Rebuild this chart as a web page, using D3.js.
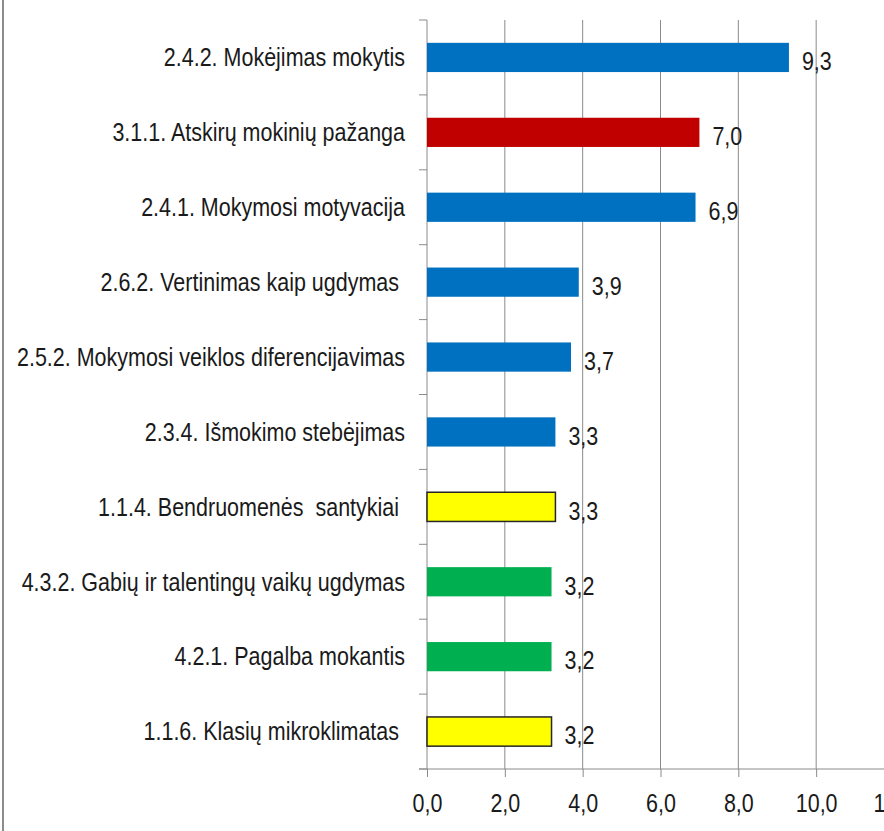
<!DOCTYPE html>
<html>
  <head>
    <meta charset="UTF-8" />
    <title>Rodikliai</title>
    <style>
      body { margin: 0; background: #fff; }
      text { font-family: "Liberation Sans", Arial, sans-serif; fill: #1a1a1a; }
    </style>
  </head>
  <body>
    <svg></svg>
    <script src="https://d3js.org/d3.v7.min.js"></script>
    <script>
      // chart data
      const categories = [
        "2.4.2. Mokėjimas mokytis",
        "3.1.1. Atskirų mokinių pažanga",
        "2.4.1. Mokymosi motyvacija",
        "2.6.2. Vertinimas kaip ugdymas ",
        "2.5.2. Mokymosi veiklos diferencijavimas",
        "2.3.4. Išmokimo stebėjimas",
        "1.1.4. Bendruomenės  santykiai ",
        "4.3.2. Gabių ir talentingų vaikų ugdymas",
        "4.2.1. Pagalba mokantis",
        "1.1.6. Klasių mikroklimatas "
      ];
      const values = [9.3, 7.0, 6.9, 3.9, 3.7, 3.3, 3.3, 3.2, 3.2, 3.2];
      const groups = ["blue", "red", "blue", "blue", "blue", "blue", "yellow", "green", "green", "yellow"];
      const xTicks = [0, 2, 4, 6, 8, 10, 12];

      const colors = { blue: "#0070c0", red: "#c00000", yellow: "#ffff00", green: "#00b050" };

      let width = 884, height = 831;
      let svg = d3.select("svg").attr("width", width).attr("height", height);

      let plotLeft = 427, plotTop = 20, plotBottom = 769;
      let squeeze = 0.86; // text in the original is narrow

      let x = d3.scaleLinear().domain([0, 12]).range([plotLeft, 894]);
      let y = d3.scaleBand().domain(categories).range([plotTop, plotBottom])
        .paddingInner(0.61).paddingOuter(0.305);

      let fmt = (v) => d3.format(".1f")(v).replace(".", ",");

      // outer border on the left
      svg.append("line")
        .attr("x1", 3).attr("x2", 3).attr("y1", 0).attr("y2", height)
        .attr("stroke", "#8c8c8c").attr("stroke-width", 2);

      // gridlines
      svg.append("g")
        .selectAll("line")
        .data(xTicks.filter((d) => d > 0))
        .enter()
        .append("line")
        .attr("x1", (d) => x(d)).attr("x2", (d) => x(d))
        .attr("y1", plotTop).attr("y2", plotBottom)
        .attr("stroke", "#8a8a8a").attr("stroke-width", 1);

      // x axis
      let xAxis = svg.append("g")
        .attr("transform", "translate(0," + plotBottom + ")")
        .call(d3.axisBottom(x).tickValues(xTicks).tickSize(8).tickPadding(17).tickFormat(fmt));
      xAxis.attr("font-family", null).attr("font-size", null);
      xAxis.select(".domain").remove();
      xAxis.selectAll(".tick line").attr("stroke", "#8a8a8a");
      xAxis.selectAll(".tick text")
        .style("font-size", "25px")
        .attr("fill", "#1a1a1a")
        .attr("transform", "scale(" + squeeze + ",1)");
      xAxis.append("line")
        .attr("x1", plotLeft - 8).attr("x2", width).attr("y1", 0).attr("y2", 0)
        .attr("stroke", "#8a8a8a");

      // y axis with ticks between categories
      let step = y.step();
      let yg = svg.append("g");
      yg.append("line")
        .attr("x1", plotLeft).attr("x2", plotLeft).attr("y1", plotTop).attr("y2", plotBottom)
        .attr("stroke", "#8a8a8a");
      yg.selectAll("line.tk")
        .data(d3.range(categories.length + 1))
        .enter()
        .append("line")
        .attr("class", "tk")
        .attr("x1", plotLeft - 8).attr("x2", plotLeft)
        .attr("y1", (i) => plotTop + i * step).attr("y2", (i) => plotTop + i * step)
        .attr("stroke", "#8a8a8a");

      // category labels
      svg.append("g")
        .selectAll("text")
        .data(categories)
        .enter()
        .append("text")
        .attr("transform", (d) =>
          "translate(" + (plotLeft - 22) + "," + (y(d) + y.bandwidth() / 2) + ") scale(" + squeeze + ",1)")
        .attr("dy", "0.35em")
        .attr("text-anchor", "end")
        .style("white-space", "pre")
        .style("font-size", "25px")
        .text((d) => d);

      // bars
      svg.append("g")
        .selectAll("rect")
        .data(values)
        .enter()
        .append("rect")
        .attr("x", x(0))
        .attr("y", (d, i) => y(categories[i]))
        .attr("width", (d) => x(d) - x(0))
        .attr("height", y.bandwidth())
        .attr("fill", (d, i) => colors[groups[i]])
        .attr("stroke", (d, i) => (groups[i] == "yellow" ? "#262626" : "none"))
        .attr("stroke-width", 1.5);

      // value labels
      svg.append("g")
        .selectAll("text")
        .data(values)
        .enter()
        .append("text")
        .attr("transform", (d, i) =>
          "translate(" + (x(d) + 13) + "," + (y(categories[i]) + y.bandwidth() / 2 + 4) + ") scale(" + squeeze + ",1)")
        .attr("dy", "0.35em")
        .style("font-size", "25px")
        .text((d) => fmt(d));
    </script>
  </body>
</html>
